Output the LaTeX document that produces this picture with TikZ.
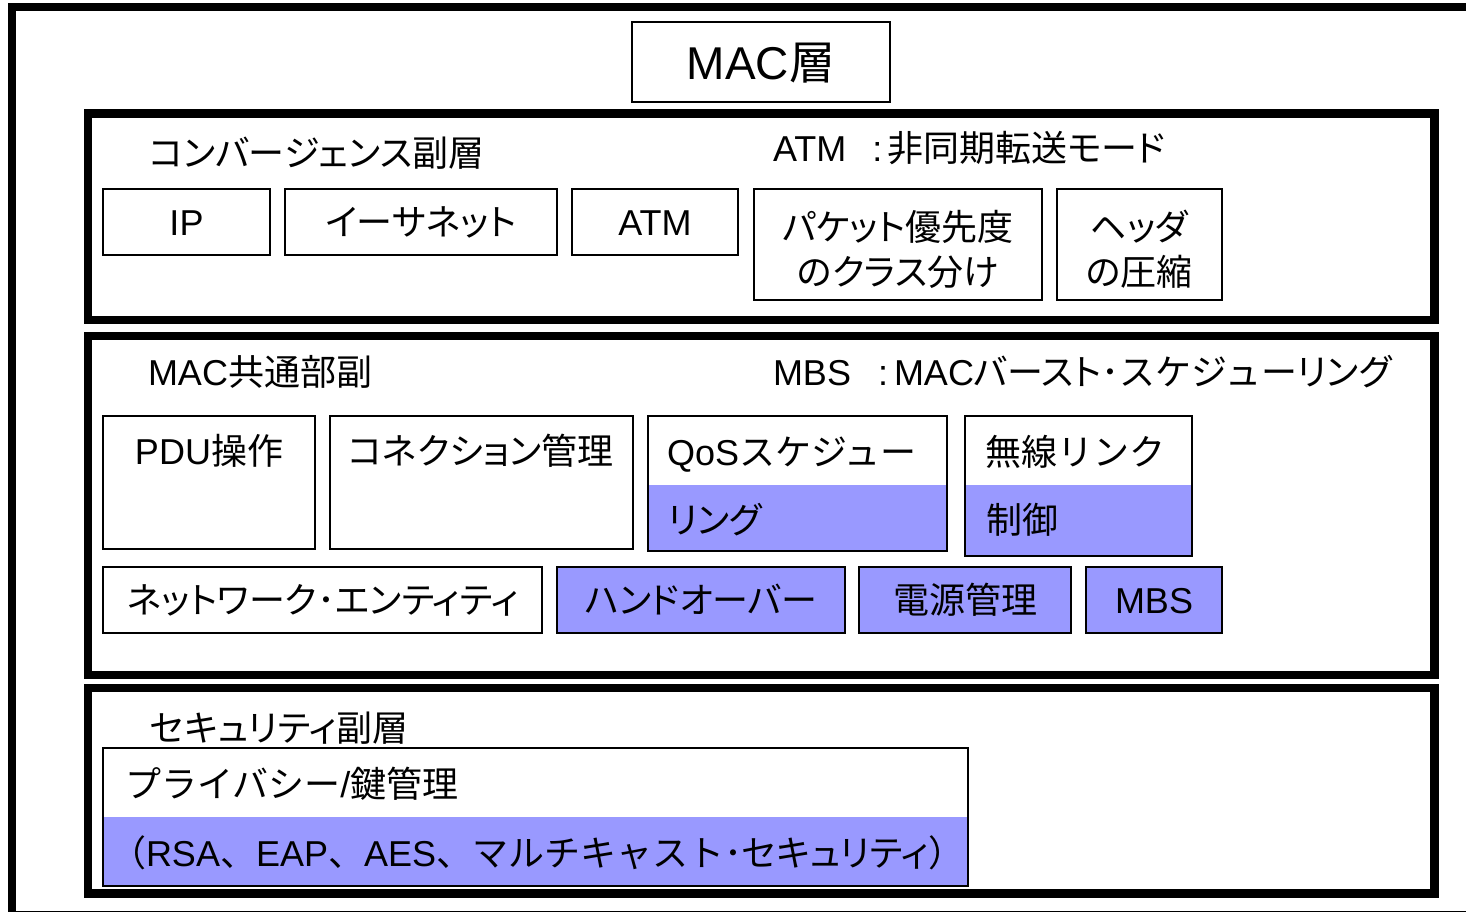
\documentclass[tikz,border=0pt]{standalone}
\usepackage{fontspec}
\setmainfont{Liberation Sans}
\newfontfamily\jp[RawFeature=+palt]{Noto Sans CJK JP}
\newfontfamily\jpf{Noto Sans CJK JP}
\definecolor{mblue}{RGB}{153,153,255}
\newcommand\fs{\fontsize{36}{45}\selectfont}
\newcommand\fbig{\fontsize{46}{55}\selectfont}
\begin{document}
\begin{tikzpicture}[x=1pt,y=-1pt,
  tbox/.style={draw=black, line width=1.5pt, fill=white, inner sep=0pt, outer sep=0pt, anchor=north west, font=\fs, text height=27pt, text depth=0pt, align=center},
  twoline/.style={tbox, text height=82pt},
  bluebox/.style={tbox, fill=mblue},
  splitbox/.style={draw=black, line width=1.5pt, inner sep=0pt, outer sep=0pt, anchor=north west},
  layer/.style={draw=black, line width=8.5pt, inner sep=0pt, outer sep=0pt, anchor=north west},
  lbl/.style={font=\fs, inner sep=0pt, outer sep=0pt, anchor=west, text height=27pt, text depth=0pt},
  clbl/.style={lbl, anchor=center}]
\useasboundingbox (0,0) rectangle (1466,912);
\clip (0,0) rectangle (1466,912);
\fill[white] (0,0) rectangle (1466,912);
% outer frame
\draw[line width=8pt] (12,7) rectangle (1490,914.5);
% MAC layer title
\node[tbox, font=\fbig, text height=35pt, minimum width=258, minimum height=80] (mac) at (632,22) {MAC{\jp 層}};
% layer boxes
\node[layer, minimum width=1346.5, minimum height=206.5] (conv) at (88,113.5) {};
\node[layer, minimum width=1346.5, minimum height=339] (cps) at (88,336) {};
\node[layer, minimum width=1346.5, minimum height=205.5] (sec) at (88,688) {};
% convergence sublayer
\node[lbl] (convt) at (149,153) {\jp コンバージェンス副層};
\node[lbl] (atmnote) at (773,148) {ATM\hspace{26pt}:\hspace{5pt}{\jp 非同期転送モード}};
\node[tbox, minimum width=167, minimum height=66] (ip) at (103,189) {IP};
\node[tbox, minimum width=272, minimum height=66] (eth) at (285,189) {\jp イーサネット};
\node[tbox, minimum width=166, minimum height=66] (atm) at (572,189) {ATM};
\node[twoline, font=\fs\jp, minimum width=288, minimum height=111] (pkt) at (754,189) {パケット優先度\\のクラス分け};
\node[twoline, font=\fs\jp, minimum width=165, minimum height=111] (hdr) at (1057,189) {ヘッダ\\の圧縮};
% MAC common part sublayer
\node[lbl] (cpst) at (148,372) {MAC{\jp 共通部副}};
\node[lbl] (mbsnote) at (773,372) {MBS\hspace{27pt}:\hspace{6pt}MAC{\jp バースト･}{\jpf スケジュー}{\jp リング}};
\node[tbox, minimum width=212, minimum height=133] (pdu) at (103,416) {};
\node[clbl] (pdut) at (209,451) {PDU{\jp 操作}};
\node[tbox, minimum width=303, minimum height=133] (con) at (330,416) {};
\node[clbl] (cont) at (481,451) {\jp コネクション管理};
\fill[mblue] (648,485) rectangle (947,551);
\node[splitbox, minimum width=299, minimum height=135] (qos) at (648,416) {};
\node[lbl] (qost1) at (667,452) {QoS{\jpf スケジュー}};
\node[lbl] (qost2) at (668,520) {\jp リング};
\fill[mblue] (965,485) rectangle (1192,556);
\node[splitbox, minimum width=227, minimum height=140] (rlc) at (965,416) {};
\node[lbl] (rlct1) at (985,452) {\jpf 無線リンク};
\node[lbl] (rlct2) at (986,520) {\jp 制御};
\node[tbox, minimum width=439, minimum height=66] (net) at (103,567) {\jp ネットワーク･エンティティ};
\node[bluebox, minimum width=288, minimum height=66] (ho) at (557,567) {\jp ハンドオーバー};
\node[bluebox, minimum width=212, minimum height=66] (pm) at (859,567) {\jp 電源管理};
\node[bluebox, minimum width=136, minimum height=66] (mbs) at (1086,567) {MBS};
% security sublayer
\node[lbl] (sect) at (150,728) {\jp セキュリティ副層};
\fill[mblue] (103,817) rectangle (968,886);
\node[splitbox, minimum width=865, minimum height=138] (priv) at (103,748) {};
\node[lbl] (privt1) at (125,784) {{\jpf プライバシー}/{\jp 鍵管理}};
\node[lbl] (privt2) at (110,853) {{\jpf （}RSA{\jpf 、}EAP{\jpf 、}AES{\jpf 、マルチキャスト}{\jp ･セキュリティ}{\jpf ）}};
\end{tikzpicture}
\end{document}
